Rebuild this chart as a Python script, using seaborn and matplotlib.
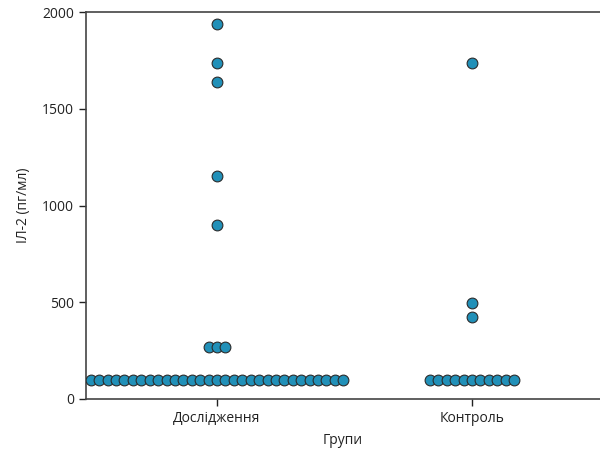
import numpy as np
import pandas as pd
import matplotlib
matplotlib.use("Agg")
import matplotlib.pyplot as plt
import seaborn as sns

# ---- data ----
categories = ["Дослідження", "Контроль"]
study_values = [100] * 31 + [270, 270, 270, 900, 1155, 1640, 1735, 1940]
control_values = [100] * 11 + [425, 495, 1735]
y_ticks = [0, 500, 1000, 1500, 2000]
x_label = "Групи"
y_label = "ІЛ-2 (пг/мл)"

sns.set_theme(style="ticks")
plt.rcParams["font.family"] = ["Open Sans", "DejaVu Sans"]

df = pd.DataFrame({
    "group": [categories[0]] * len(study_values) + [categories[1]] * len(control_values),
    "value": study_values + control_values,
})
df["code"] = df["group"].map({c: i for i, c in enumerate(categories)})
# side-by-side spread of tied values (swarm-like single rows)
spacing = 0.033
rank = df.groupby(["group", "value"]).cumcount()
count = df.groupby(["group", "value"])["value"].transform("size")
df["pos"] = df["code"] + (rank - (count - 1) / 2) * spacing

fig = plt.figure(figsize=(6.0, 4.49), dpi=100)
ax = fig.add_axes([86 / 600, 1 - 399 / 449, 514 / 600, (399 - 12) / 449])

sns.scatterplot(data=df, x="pos", y="value", ax=ax, color="#2190b8",
                edgecolor="#2b2b2b", linewidth=0.8, s=60, zorder=3, legend=False)

ax.set_xlim(-0.514, 1.502)
ax.set_ylim(0, 2000)
ax.set_yticks(y_ticks)
ax.set_xticks(range(len(categories)))
ax.set_xticklabels(categories)
ax.set_xlabel(x_label, fontsize=10, color="#222222", labelpad=5)
ax.set_ylabel(y_label, fontsize=10, color="#222222", labelpad=8)
ax.tick_params(axis="both", labelsize=10, colors="#222222", length=5, width=1, direction="out")
for side in ["left", "bottom", "top"]:
    ax.spines[side].set_color("#444444")
    ax.spines[side].set_linewidth(1.2)
ax.spines["right"].set_visible(False)

fig.savefig("out.png", dpi=100)
